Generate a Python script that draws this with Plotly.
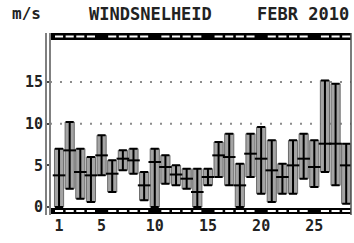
import plotly.graph_objects as go

# ---- data ----
days = list(range(1, 29))
wind_min = [0.0, 2.2, 1.0, 0.6, 3.8, 1.8, 4.4, 4.0, 0.8, 0.0, 2.8, 2.6, 2.2, 0.0,
            2.6, 3.6, 2.6, 0.0, 3.6, 1.6, 0.6, 1.6, 1.6, 3.4, 2.4, 4.2, 2.6, 0.4]
wind_mean = [3.8, 6.8, 4.2, 3.8, 6.2, 4.0, 5.8, 5.6, 2.6, 5.4, 4.8, 3.9, 3.4, 1.8,
             3.6, 6.2, 6.0, 2.6, 6.4, 5.8, 4.4, 3.6, 5.0, 5.8, 4.8, 7.6, 7.6, 5.0]
wind_max = [7.0, 10.2, 7.0, 6.0, 8.6, 5.6, 6.8, 7.0, 4.2, 7.0, 6.2, 5.0, 4.6, 4.6,
            4.6, 7.8, 8.8, 5.2, 8.8, 9.6, 8.0, 5.2, 8.0, 8.8, 8.0, 15.2, 14.8, 7.6]
y_ticks = [0, 5, 10, 15]
x_ticks = [1, 5, 10, 15, 20, 25]
grid_levels = [10, 15]

title_unit = "m/s"
title_main = "WINDSNELHEID"
title_date = "FEBR 2010"

FONT = "DejaVu Sans Mono"

fig = go.Figure()

# grey range boxes (min..max)
fig.add_trace(go.Bar(
    x=days,
    base=wind_min,
    y=[hi - lo for hi, lo in zip(wind_max, wind_min)],
    width=0.86,
    marker=dict(color="#a4a4a4", line=dict(color="#6a6a6a", width=1)),
    hoverinfo="skip",
))

# black whiskers with mean tick
fig.add_trace(go.Scatter(
    x=days,
    y=wind_mean,
    mode="markers",
    marker=dict(symbol="line-ew", size=9, line=dict(color="black", width=2), color="black"),
    error_y=dict(
        type="data",
        symmetric=False,
        array=[hi - m for hi, m in zip(wind_max, wind_mean)],
        arrayminus=[m - lo for m, lo in zip(wind_mean, wind_min)],
        color="black",
        thickness=2,
        width=4,
    ),
    hoverinfo="skip",
))

W, H = 301, 182  # plot area in pixels
shapes = []
# dotted grid lines
for g in grid_levels:
    shapes.append(dict(type="line", xref="paper", x0=0, x1=1, yref="y", y0=g, y1=g,
                       line=dict(color="#8c8c8c", width=2, dash="2px,8px"), layer="below"))

# top and bottom ruler bands
def band(y_top_px, y_bot_px):
    p_top = 1 - y_top_px / H
    p_bot = 1 - y_bot_px / H
    mid = (p_top + p_bot) / 2
    out = [dict(type="rect", xref="paper", x0=0, x1=1, yref="paper", y0=p_bot, y1=p_top,
                fillcolor="black", line=dict(width=0), layer="above")]
    for d in days:
        if d % 5 == 0:
            continue
        out.append(dict(type="line", xref="x", x0=d - 0.38, x1=d + 0.38, yref="paper",
                        y0=mid, y1=mid, line=dict(color="white", width=2), layer="above"))
    return out

shapes += band(0, 7)
shapes += band(175, 181)

# left double border and right border
shapes.append(dict(type="line", xref="paper", x0=0, x1=0, yref="paper", y0=0, y1=1,
                   line=dict(color="#808080", width=2), layer="above"))
shapes.append(dict(type="line", xref="paper", x0=-4 / W, x1=-4 / W, yref="paper", y0=0, y1=1.0,
                   line=dict(color="#808080", width=2), layer="above"))
shapes.append(dict(type="line", xref="paper", x0=1, x1=1, yref="paper", y0=0, y1=1,
                   line=dict(color="#505050", width=1.5), layer="above"))

annotations = [
    dict(text=title_unit, xref="paper", yref="paper", x=-40 / W, y=1 + 19 / H,
         xanchor="left", yanchor="middle", showarrow=False,
         font=dict(family=FONT, size=16, color="#222", weight="bold")),
    dict(text=title_main, xref="paper", yref="paper", x=100 / W, y=1 + 19 / H,
         xanchor="center", yanchor="middle", showarrow=False,
         font=dict(family=FONT, size=17, color="#222", weight="bold")),
    dict(text=title_date, xref="paper", yref="paper", x=1, y=1 + 19 / H,
         xanchor="right", yanchor="middle", showarrow=False,
         font=dict(family=FONT, size=17, color="#222", weight="bold")),
]

fig.update_layout(
    width=354, height=243,
    margin=dict(l=50, r=3, t=33, b=28),
    paper_bgcolor="white", plot_bgcolor="white",
    showlegend=False,
    bargap=0,
    shapes=shapes,
    annotations=annotations,
    xaxis=dict(range=[0.15, 28.45], tickvals=x_ticks, ticktext=[str(t) for t in x_ticks],
               showgrid=False, zeroline=False, showline=False, ticks="",
               tickfont=dict(family=FONT, size=15, color="#222", weight="bold")),
    yaxis=dict(range=[-0.96, 20.89], tickvals=y_ticks, ticktext=[str(t) for t in y_ticks],
               showgrid=False, zeroline=False, showline=False, ticks="outside", ticklen=3,
               tickcolor="#444", tickwidth=2,
               tickfont=dict(family=FONT, size=15, color="#222", weight="bold")),
)

fig.write_html("out.html", config={"displayModeBar": False, "staticPlot": True},
               post_script="document.body.style.margin='0';document.body.style.overflow='hidden';")
